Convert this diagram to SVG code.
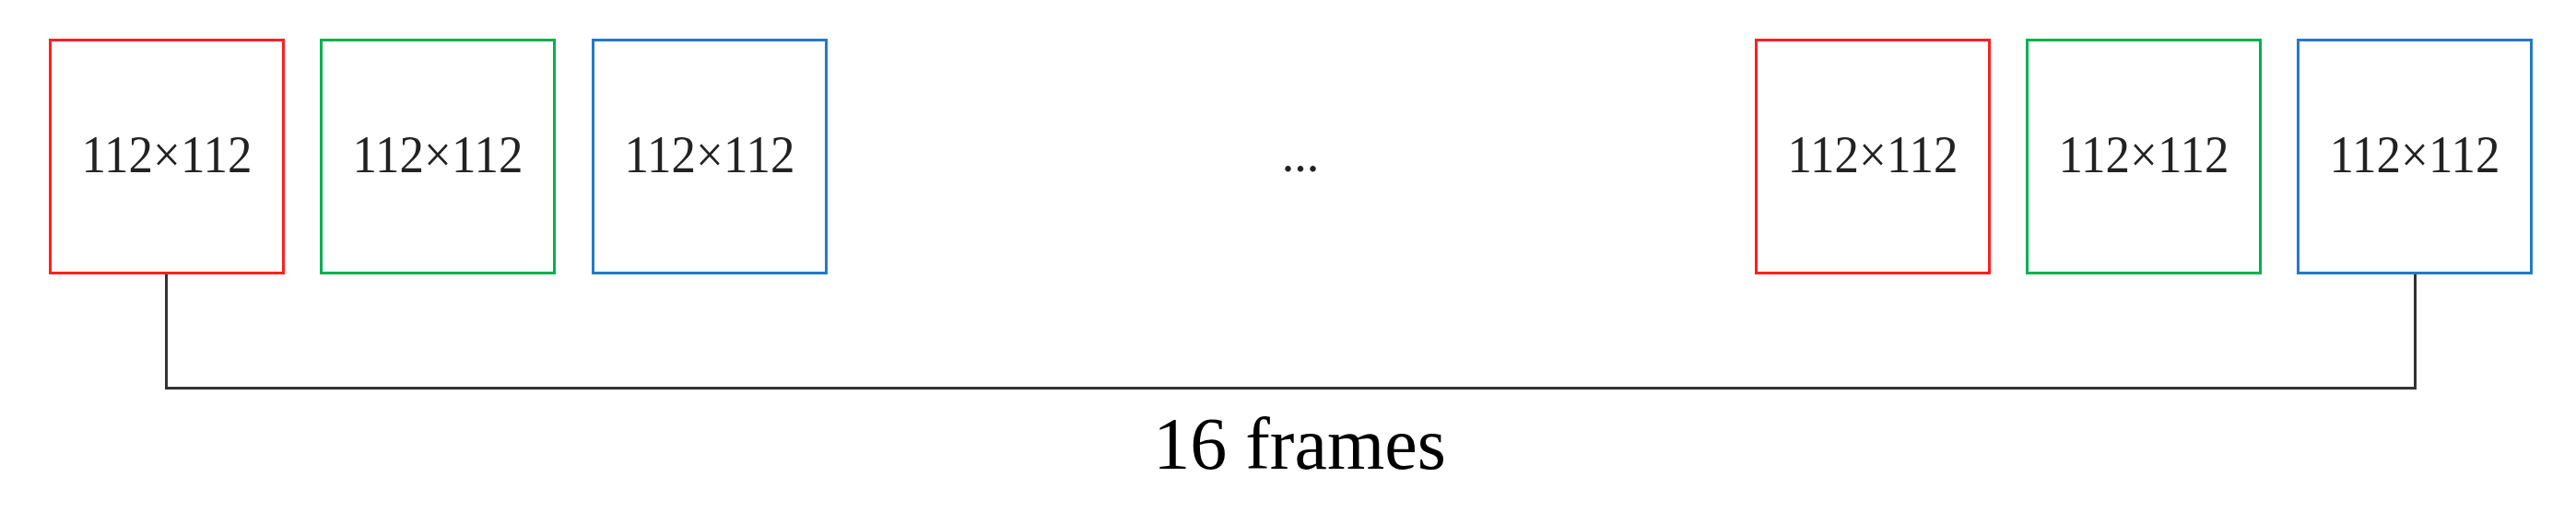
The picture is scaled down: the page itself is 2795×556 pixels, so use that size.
<svg xmlns="http://www.w3.org/2000/svg" width="2795" height="556" viewBox="0 0 2795 556">
  <style>
    .box { fill: #ffffff; stroke-width: 3; }
    .red { stroke: #FF1F1F; }
    .green { stroke: #00B050; }
    .blue { stroke: #2479C9; }
    .lbl { font-family: "Liberation Serif", "Times New Roman", serif; font-size: 56px; fill: #222222; text-anchor: middle; }
    .dots { font-family: "Liberation Serif", "Times New Roman", serif; font-size: 54px; fill: #222222; text-anchor: middle; }
    .conn { fill: none; stroke: #333333; stroke-width: 3; }
    .big { font-family: "Liberation Serif", "Times New Roman", serif; font-size: 80px; fill: #000000; text-anchor: middle; }
  </style>
  <rect x="0" y="0" width="2795" height="556" fill="#ffffff"/>
  <g id="frame1"><rect class="box red" x="54.5" y="43.5" width="253" height="253"/><text class="lbl" x="181" y="187" textLength="185" lengthAdjust="spacingAndGlyphs">112×112</text></g>
  <g id="frame2"><rect class="box green" x="348.5" y="43.5" width="253" height="253"/><text class="lbl" x="475" y="187" textLength="185" lengthAdjust="spacingAndGlyphs">112×112</text></g>
  <g id="frame3"><rect class="box blue" x="643.5" y="43.5" width="253" height="253"/><text class="lbl" x="770" y="187" textLength="185" lengthAdjust="spacingAndGlyphs">112×112</text></g>
  <g id="ellipsis"><text class="dots" x="1411" y="186">...</text></g>
  <g id="frame14"><rect class="box red" x="1905.5" y="43.5" width="253" height="253"/><text class="lbl" x="2032" y="187" textLength="185" lengthAdjust="spacingAndGlyphs">112×112</text></g>
  <g id="frame15"><rect class="box green" x="2199.5" y="43.5" width="253" height="253"/><text class="lbl" x="2326" y="187" textLength="185" lengthAdjust="spacingAndGlyphs">112×112</text></g>
  <g id="frame16"><rect class="box blue" x="2493.5" y="43.5" width="253" height="253"/><text class="lbl" x="2620" y="187" textLength="185" lengthAdjust="spacingAndGlyphs">112×112</text></g>
  <g id="connectors">
    <path class="conn" d="M180.5,298 V421.5 H2620.5 V298"/>
  </g>
  <g id="caption"><text class="big" x="1410" y="509">16 frames</text></g>
</svg>
